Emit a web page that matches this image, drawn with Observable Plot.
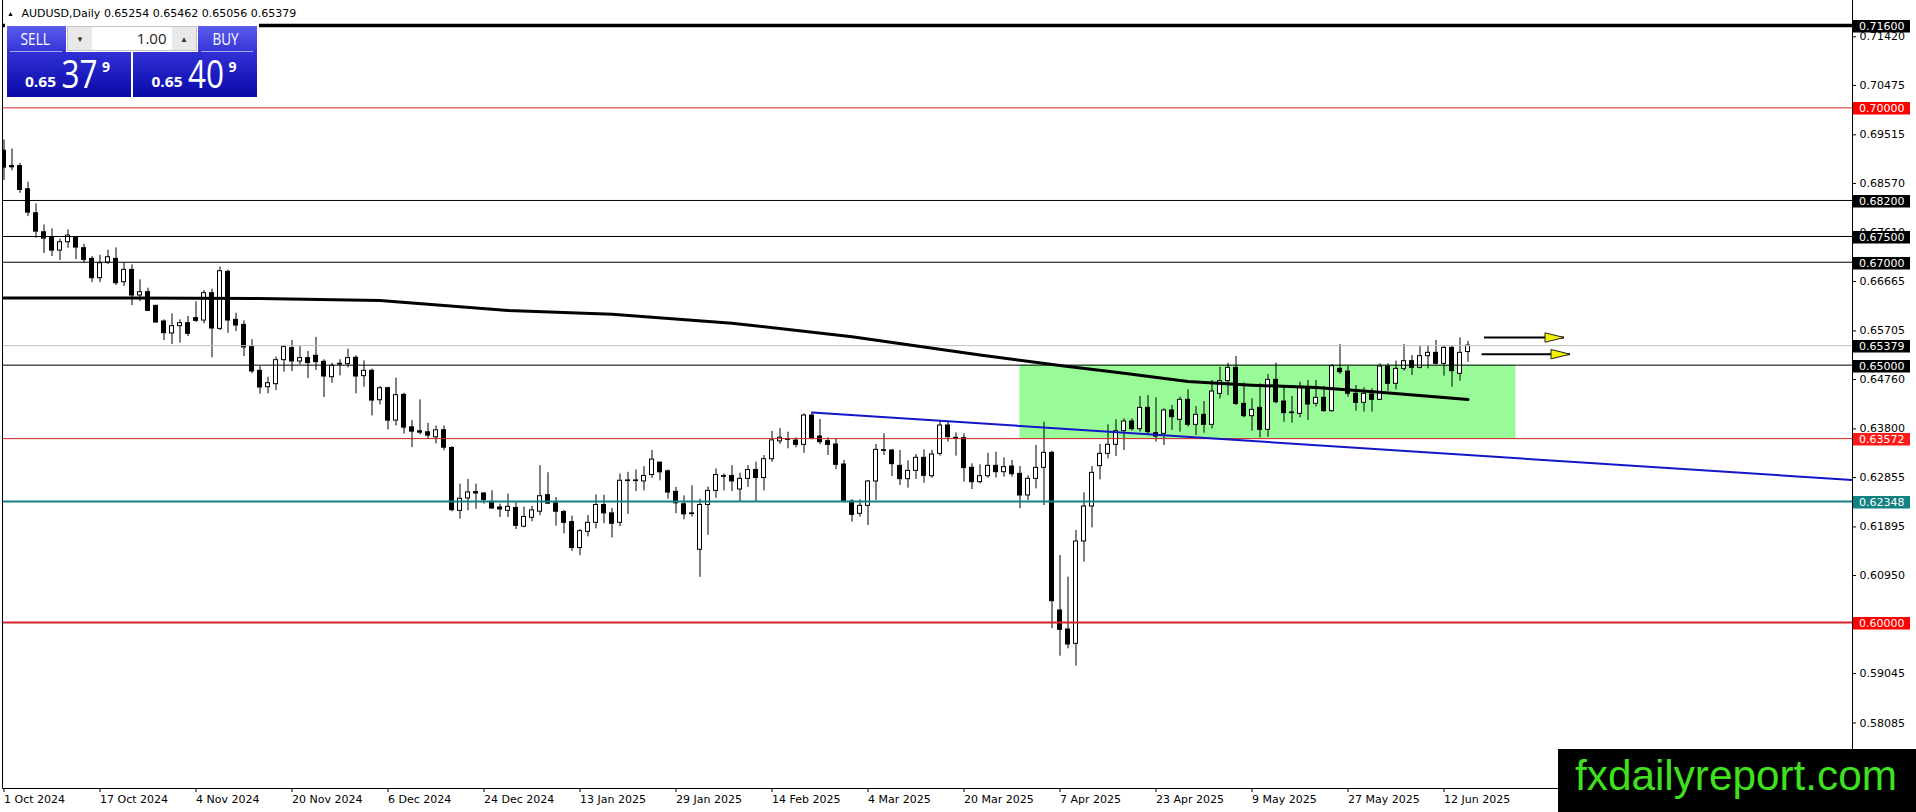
<!DOCTYPE html>
<html>
<head>
<meta charset="utf-8">
<script src="https://cdn.jsdelivr.net/npm/d3@7"></script>
<script src="https://cdn.jsdelivr.net/npm/@observablehq/plot@0.6"></script>
<style>
  html, body { margin: 0; padding: 0; background: #fff; overflow: hidden; }
  #chart { position: relative; width: 1916px; height: 812px; }
  #chart svg { display: block; }
  #chart svg.overlay { position: absolute; left: 0; top: 0; pointer-events: none; }
</style>
</head>
<body>
<div id="chart"></div>
<script>
// AUDUSD daily candles, 1 Oct 2024 .. 17 Jun 2025 (bar index = position on chart)
const opens = [
  0.69168, 0.6887, 0.6887, 0.68417, 0.67951, 0.67582, 0.67472, 0.67226, 0.67388, 0.67479,
  0.67272, 0.67065, 0.66689, 0.66993, 0.67065, 0.66612, 0.66851, 0.66353, 0.66417, 0.66152,
  0.65848, 0.65615, 0.65757, 0.65815, 0.65913, 0.65867, 0.66398, 0.65705, 0.66812, 0.6588,
  0.65783, 0.65356, 0.6489, 0.64571, 0.6463, 0.65097, 0.65331, 0.65071, 0.65136, 0.65182,
  0.65065, 0.64766, 0.65013, 0.65019, 0.65143, 0.64786, 0.6489, 0.64318, 0.64552, 0.63922,
  0.64422, 0.63792, 0.63714, 0.63695, 0.63597, 0.63734, 0.6339, 0.62169, 0.62409, 0.62532,
  0.62506, 0.62344, 0.62234, 0.62169, 0.62224, 0.6186, 0.62034, 0.62152, 0.62472, 0.62315,
  0.62145, 0.61949, 0.61446, 0.6176, 0.61936, 0.62283, 0.62119, 0.61936, 0.62747, 0.62747,
  0.6274, 0.62864, 0.63106, 0.62936, 0.62538, 0.62296, 0.62119, 0.61413, 0.62283, 0.62557,
  0.62845, 0.62845, 0.62583, 0.6279, 0.62962, 0.62806, 0.63172, 0.63518, 0.63548, 0.63535,
  0.63451, 0.64021, 0.63613, 0.63522, 0.63458, 0.63069, 0.6235, 0.62111, 0.62266, 0.62739,
  0.63348, 0.63341, 0.63043, 0.62784, 0.62946, 0.63199, 0.62842, 0.63276, 0.63827, 0.63587,
  0.63581, 0.63004, 0.62726, 0.62842, 0.63043, 0.6292, 0.6303, 0.62888, 0.62467, 0.62791,
  0.63004, 0.63296, 0.60232, 0.59863, 0.59584, 0.61573, 0.62253, 0.63037, 0.63276, 0.63452,
  0.63717, 0.63905, 0.63756, 0.6417, 0.63678, 0.63665, 0.64119, 0.63937, 0.64326, 0.6384,
  0.64034, 0.6384, 0.64442, 0.64689, 0.64948, 0.64248, 0.64008, 0.6417, 0.63743, 0.64714,
  0.64293, 0.6408, 0.64054, 0.64553, 0.64248, 0.64365, 0.64106, 0.64928, 0.64876, 0.64443,
  0.64268, 0.6443, 0.64326, 0.64974, 0.64637, 0.64928, 0.65077, 0.64948, 0.65174, 0.65239,
  0.65026, 0.65336, 0.64831, 0.65254
];
const highs = [
  0.69375, 0.692, 0.68922, 0.68553, 0.68132, 0.67725, 0.67647, 0.67453, 0.67628, 0.67498,
  0.67349, 0.6711, 0.67136, 0.67233, 0.67278, 0.66993, 0.66948, 0.66657, 0.66495, 0.66165,
  0.6588, 0.65997, 0.6588, 0.65945, 0.6623, 0.6645, 0.66476, 0.66909, 0.66851, 0.6601,
  0.65861, 0.65492, 0.64974, 0.64766, 0.65156, 0.65383, 0.6548, 0.65364, 0.65266, 0.65539,
  0.65104, 0.65039, 0.65104, 0.65312, 0.65182, 0.65084, 0.64922, 0.64584, 0.6457, 0.64747,
  0.64455, 0.63922, 0.64325, 0.6387, 0.63818, 0.63818, 0.63416, 0.62688, 0.62779, 0.62688,
  0.62526, 0.62558, 0.62299, 0.62494, 0.62328, 0.62243, 0.62256, 0.63047, 0.6291, 0.62426,
  0.62178, 0.62067, 0.61806, 0.6208, 0.62479, 0.62472, 0.62217, 0.62884, 0.62917, 0.62962,
  0.63028, 0.63341, 0.63115, 0.62962, 0.62623, 0.62459, 0.62655, 0.62394, 0.6263, 0.62982,
  0.62884, 0.63047, 0.629, 0.63047, 0.63113, 0.63243, 0.63714, 0.63766, 0.63697, 0.63587,
  0.64054, 0.6408, 0.63944, 0.63587, 0.63568, 0.63147, 0.62383, 0.62383, 0.62758, 0.63458,
  0.63665, 0.63354, 0.63341, 0.6314, 0.63263, 0.63354, 0.63341, 0.63911, 0.63911, 0.63684,
  0.63665, 0.63082, 0.63063, 0.63289, 0.63309, 0.63199, 0.63147, 0.6303, 0.62849, 0.63438,
  0.63892, 0.63328, 0.61301, 0.6088, 0.61787, 0.62519, 0.6303, 0.63458, 0.6384, 0.63937,
  0.63957, 0.63957, 0.64391, 0.6441, 0.64365, 0.64151, 0.64216, 0.64378, 0.6452, 0.64196,
  0.64293, 0.64702, 0.64961, 0.65038, 0.65168, 0.64656, 0.64345, 0.64637, 0.64818, 0.65038,
  0.64604, 0.64391, 0.64669, 0.64702, 0.64702, 0.64585, 0.65013, 0.65401, 0.64974, 0.64604,
  0.64559, 0.6454, 0.65026, 0.65026, 0.65077, 0.65401, 0.65187, 0.65362, 0.65369, 0.65479,
  0.65369, 0.65369, 0.65531, 0.65462
];
const lows = [
  0.68586, 0.6878, 0.6834, 0.67887, 0.67466, 0.67168, 0.6711, 0.67032, 0.67272, 0.67052,
  0.66993, 0.66605, 0.66605, 0.66955, 0.66547, 0.66527, 0.66158, 0.66236, 0.66042, 0.6582,
  0.65479, 0.65401, 0.65427, 0.65557, 0.65828, 0.65803, 0.65142, 0.65673, 0.65621, 0.65654,
  0.65168, 0.64832, 0.64435, 0.64442, 0.64506, 0.64864, 0.64877, 0.65006, 0.6474, 0.64896,
  0.6437, 0.64649, 0.64792, 0.64948, 0.64442, 0.64571, 0.64013, 0.64227, 0.6374, 0.63818,
  0.63662, 0.63396, 0.63643, 0.63558, 0.63468, 0.63338, 0.6215, 0.62006, 0.62169, 0.62201,
  0.62299, 0.62201, 0.62039, 0.62039, 0.61806, 0.6184, 0.61956, 0.62073, 0.62296, 0.61871,
  0.61721, 0.61381, 0.61296, 0.61662, 0.61819, 0.61917, 0.61642, 0.6186, 0.621, 0.62544,
  0.62557, 0.62799, 0.62753, 0.62394, 0.62113, 0.61994, 0.62047, 0.60877, 0.61694, 0.62413,
  0.62557, 0.62544, 0.62348, 0.62623, 0.62348, 0.62557, 0.63113, 0.63459, 0.63374, 0.63393,
  0.63289, 0.63548, 0.63451, 0.63244, 0.62972, 0.62324, 0.61948, 0.62046, 0.61884, 0.6237,
  0.63244, 0.62836, 0.62661, 0.62609, 0.62778, 0.62706, 0.62804, 0.63231, 0.63503, 0.63231,
  0.62726, 0.62583, 0.62693, 0.62804, 0.62804, 0.62823, 0.62823, 0.62208, 0.6237, 0.62596,
  0.62272, 0.59876, 0.59344, 0.59487, 0.5915, 0.61171, 0.61838, 0.62771, 0.63179, 0.63225,
  0.63341, 0.63717, 0.63697, 0.63652, 0.63503, 0.63438, 0.6373, 0.63697, 0.63795, 0.63633,
  0.63678, 0.63762, 0.64345, 0.6441, 0.64216, 0.63976, 0.63717, 0.63587, 0.636, 0.64248,
  0.63892, 0.63872, 0.63976, 0.63924, 0.64183, 0.64086, 0.64086, 0.64818, 0.64378, 0.64106,
  0.64086, 0.64086, 0.64313, 0.64494, 0.6452, 0.64883, 0.64799, 0.64928, 0.64928, 0.65006,
  0.64786, 0.64572, 0.64689, 0.65056
];
const closes = [
  0.68838, 0.68844, 0.68404, 0.67964, 0.67595, 0.67459, 0.67226, 0.67388, 0.67518, 0.67285,
  0.67045, 0.66689, 0.6698, 0.67097, 0.66592, 0.66851, 0.66353, 0.66417, 0.66055, 0.65828,
  0.65621, 0.65757, 0.65815, 0.65608, 0.65861, 0.66398, 0.65712, 0.66825, 0.65867, 0.6577,
  0.65343, 0.64877, 0.64565, 0.64649, 0.65097, 0.65351, 0.65071, 0.65136, 0.65039, 0.65058,
  0.64779, 0.64987, 0.65026, 0.65136, 0.64779, 0.6489, 0.64312, 0.64552, 0.63922, 0.64416,
  0.63786, 0.63708, 0.63688, 0.6363, 0.63734, 0.63396, 0.62182, 0.62403, 0.62526, 0.62506,
  0.62377, 0.62214, 0.62195, 0.62247, 0.61877, 0.6205, 0.62178, 0.62453, 0.62309, 0.62152,
  0.61936, 0.61446, 0.61773, 0.61936, 0.62283, 0.62119, 0.61917, 0.62753, 0.6276, 0.6276,
  0.62845, 0.63165, 0.62917, 0.62524, 0.62315, 0.621, 0.62106, 0.62283, 0.62557, 0.62864,
  0.62832, 0.6274, 0.6279, 0.62962, 0.62806, 0.63172, 0.63538, 0.6359, 0.63561, 0.63451,
  0.64021, 0.63581, 0.63503, 0.63451, 0.63063, 0.62357, 0.62091, 0.62266, 0.62739, 0.63354,
  0.63335, 0.63076, 0.62784, 0.62946, 0.63199, 0.62849, 0.63263, 0.63827, 0.636, 0.63574,
  0.62998, 0.62726, 0.62842, 0.63043, 0.6292, 0.63017, 0.62881, 0.62467, 0.62791, 0.63004,
  0.63296, 0.60413, 0.59856, 0.59571, 0.61573, 0.62253, 0.62907, 0.63276, 0.63452, 0.63717,
  0.63905, 0.63756, 0.6417, 0.63697, 0.63613, 0.64119, 0.63989, 0.64326, 0.6384, 0.64034,
  0.6384, 0.64488, 0.64689, 0.64948, 0.64248, 0.64008, 0.64131, 0.63743, 0.64714, 0.64281,
  0.64067, 0.64067, 0.64553, 0.64235, 0.64365, 0.64106, 0.6498, 0.64863, 0.64443, 0.64268,
  0.64443, 0.64326, 0.64974, 0.64637, 0.64928, 0.65077, 0.64948, 0.65174, 0.65239, 0.65026,
  0.65336, 0.64883, 0.65239, 0.65379
];

// date axis
const tickBars = [0, 12, 24, 36, 48, 60, 72, 84, 96, 108, 120, 132, 144, 156, 168, 180];
const tickLabels = ["1 Oct 2024", "17 Oct 2024", "4 Nov 2024", "20 Nov 2024", "6 Dec 2024", "24 Dec 2024",
  "13 Jan 2025", "29 Jan 2025", "14 Feb 2025", "4 Mar 2025", "20 Mar 2025", "7 Apr 2025",
  "23 Apr 2025", "9 May 2025", "27 May 2025", "12 Jun 2025"];

// price axis
const priceTicks = [0.7142, 0.70475, 0.69515, 0.6857, 0.6761, 0.66665, 0.65705, 0.6476,
  0.638, 0.62855, 0.61895, 0.6095, 0.5999, 0.59045, 0.58085];

// horizontal levels
const levelPrices = [0.716, 0.70, 0.682, 0.675, 0.67, 0.65379, 0.65, 0.63572, 0.62348, 0.60];

// moving average, read at a few bars
const maBars = [0, 16, 32, 47, 63, 76, 91, 106, 122, 132, 140, 148, 156, 164, 172, 183];
const maValues = [0.66305, 0.66305, 0.66295, 0.66256, 0.66062, 0.6599, 0.65815, 0.65553,
  0.65197, 0.64993, 0.64843, 0.64682, 0.6461, 0.64565, 0.64474, 0.64332];

// descending trend line (runs to the right edge)
const trendBars = [101, 231];
const trendValues = [0.6408, 0.62768];

// green range box
const zoneBars = [127, 189];
const zonePrices = [0.63572, 0.65];

// two arrows to the right
const arrowFrom = [185, 184.7];
const arrowTo = [195, 195.75];
const arrowPrices = [0.65537, 0.65213];

const symbolName = "AUDUSD,Daily";
const bid = 0.65379, ask = 0.65409, lots = "1.00";

// ---- styles (kept apart from the data) ----
const levelStroke = ["#000", "#e02020", "#000", "#000", "#000", "#c0c0c0", "#000", "#c81e1e", "#168080", "#d2232a"];
const levelWidth = [3.5, 1, 1, 1, 1, 1, 1, 1, 2, 2];
const levelBox = ["#000", "#ff0000", "#000", "#000", "#000", "#000", "#000", "#ff1a1a", "#148282", "#ff0000"];

const bars = opens.map((o, i) => ({i, o, h: highs[i], l: lows[i], c: closes[i]}));
const upBars = bars.filter(d => d.c >= d.o);
const downBars = bars.filter(d => d.c < d.o);
const ma = maBars.map((b, k) => ({b, v: maValues[k]}));
const trend = trendBars.map((b, k) => ({b, v: trendValues[k]}));
const arrows = arrowFrom.map((f, k) => ({f, t: arrowTo[k], p: arrowPrices[k]}));

const arrowHead = {
  draw(ctx) {
    ctx.moveTo(0, 0);
    ctx.lineTo(-19, -4.7);
    ctx.lineTo(-19, 4.7);
    ctx.closePath();
  }
};

const plot = Plot.plot({
  width: 1916,
  height: 812,
  marginLeft: 3,
  marginRight: 64,
  marginTop: 0,
  marginBottom: 24,
  style: {background: "#fff", color: "#000", fontFamily: "DejaVu Sans", fontSize: "11px"},
  x: {type: "linear", domain: [-0.0625, 231.0625]},
  y: {type: "linear", domain: [0.56773, 0.72086]},
  marks: [
    Plot.rect([0], {x1: () => zoneBars[0], x2: () => zoneBars[1], y1: () => zonePrices[0], y2: () => zonePrices[1], fill: "#98fb98", clip: true}),
    Plot.ruleX(bars, {x: "i", y1: "l", y2: "h", stroke: "#000", strokeWidth: 1, clip: true}),
    Plot.rect(upBars, {x1: d => d.i - 0.25, x2: d => d.i + 0.25, y1: "o", y2: "c", fill: "#fff", stroke: "#000", strokeWidth: 1, clip: true}),
    Plot.rect(downBars, {x1: d => d.i - 0.25, x2: d => d.i + 0.25, y1: "o", y2: "c", fill: "#000", stroke: "#000", strokeWidth: 1, clip: true}),
    ...levelPrices.map((p, k) => Plot.ruleY([p], {stroke: levelStroke[k], strokeWidth: levelWidth[k]})),
    Plot.line(trend, {x: "b", y: "v", stroke: "#1414c8", strokeWidth: 2, clip: true}),
    Plot.line(ma, {x: "b", y: "v", stroke: "#000", strokeWidth: 3, clip: true}),
    Plot.link(arrows, {x1: "f", x2: "t", y1: "p", y2: "p", stroke: "#000", strokeWidth: 2}),
    Plot.dot(arrows, {x: "t", y: "p", symbol: arrowHead, fill: "#f2f200", stroke: "#222", strokeWidth: 1}),
    Plot.axisX(tickBars, {anchor: "bottom", tickSize: 4, tickPadding: 3, textAnchor: "start", label: null,
      tickFormat: d => tickLabels[tickBars.indexOf(d)]}),
    Plot.axisY(priceTicks, {anchor: "right", tickSize: 3, tickPadding: 4, dy: 2, label: null,
      tickFormat: d => d.toFixed(5)})
  ]
});

const chart = document.getElementById("chart");
chart.appendChild(plot);

// frame lines and price labels, placed with the plot's own scales
const svg = d3.select(plot);
const xs = plot.scale("x"), ys = plot.scale("y");
const left = xs.range[0] - 0.5, right = xs.range[1] + 0.5, bottom = ys.range[0] + 0.5;
svg.append("path").attr("d", `M${left},0V${bottom}H${right}V0`).attr("fill", "none").attr("stroke", "#000");

const labels = svg.append("g").attr("text-anchor", "start").attr("font-family", "DejaVu Sans").attr("font-size", 11);
levelPrices.forEach((p, k) => {
  const yy = Math.round(ys.apply(p));
  labels.append("rect").attr("x", right + 0.5).attr("y", yy - 5).attr("width", 57).attr("height", 12.5).attr("fill", levelBox[k]);
  labels.append("text").attr("x", right + 6.5).attr("y", yy + 5.3).attr("fill", "#fff").text(p.toFixed(5));
});

// header, one-click trading panel and watermark
const ov = d3.select(chart).append("svg").attr("class", "overlay").attr("width", 1916).attr("height", 812)
  .attr("text-anchor", "start");
const defs = ov.append("defs");
const g1 = defs.append("linearGradient").attr("id", "hd").attr("x1", 0).attr("y1", 0).attr("x2", 0).attr("y2", 1);
g1.append("stop").attr("offset", 0).attr("stop-color", "#5c5cee");
g1.append("stop").attr("offset", 1).attr("stop-color", "#3434d6");
const g2 = defs.append("linearGradient").attr("id", "bx").attr("x1", 0).attr("y1", 0).attr("x2", 0).attr("y2", 1);
g2.append("stop").attr("offset", 0).attr("stop-color", "#3030d6");
g2.append("stop").attr("offset", 1).attr("stop-color", "#0a0aa8");

const last = bars[bars.length - 1];
ov.append("text").attr("x", 7).attr("y", 16).attr("font-size", 7).text("▲");
ov.append("text").attr("x", 21.5).attr("y", 17).attr("font-family", "DejaVu Sans").attr("font-size", 11)
  .text(`${symbolName} ${last.o.toFixed(5)} ${last.h.toFixed(5)} ${last.l.toFixed(5)} ${last.c.toFixed(5)}`);

ov.append("rect").attr("x", 5).attr("y", 21).attr("width", 254).attr("height", 77).attr("fill", "#fff");
const font = "Open Sans";
[[7, "SELL", 20.5, 29.5], [198, "BUY", 212.5, 26]].forEach(([x0, label, tx, tl]) => {
  ov.append("rect").attr("x", x0).attr("y", 26).attr("width", 59).attr("height", 26).attr("fill", "url(#hd)");
  ov.append("line").attr("x1", x0 + 3).attr("x2", x0 + 55).attr("y1", 51.5).attr("y2", 51.5).attr("stroke", "#a9a9ee");
  ov.append("text").attr("x", tx).attr("y", 44.5).attr("font-family", font).attr("font-size", 16).attr("fill", "#fff")
    .attr("textLength", tl).attr("lengthAdjust", "spacingAndGlyphs").text(label);
});
ov.append("rect").attr("x", 67.5).attr("y", 26.5).attr("width", 129).attr("height", 24).attr("fill", "#fff").attr("stroke", "#c4c4c4");
ov.append("rect").attr("x", 68).attr("y", 27).attr("width", 24).attr("height", 23).attr("fill", "#e9e9e9");
ov.append("rect").attr("x", 172).attr("y", 27).attr("width", 24).attr("height", 23).attr("fill", "#e9e9e9");
ov.append("text").attr("x", 80).attr("y", 42).attr("font-size", 8).attr("text-anchor", "middle").attr("fill", "#333").text("▼");
ov.append("text").attr("x", 184).attr("y", 42).attr("font-size", 8).attr("text-anchor", "middle").attr("fill", "#333").text("▲");
ov.append("text").attr("x", 166.5).attr("y", 44).attr("font-family", font).attr("font-size", 15).attr("text-anchor", "end")
  .attr("fill", "#222").text(lots);

[[7, bid, 25], [133, ask, 151.5]].forEach(([x0, price, tx]) => {
  const s = price.toFixed(5);
  ov.append("rect").attr("x", x0).attr("y", 52).attr("width", 124).attr("height", 45).attr("fill", "url(#bx)");
  ov.append("text").attr("x", tx).attr("y", 87).attr("font-family", font).attr("font-size", 15).attr("font-weight", "bold")
    .attr("fill", "#fff").attr("textLength", 31).attr("lengthAdjust", "spacingAndGlyphs").text(s.slice(0, 4));
  ov.append("text").attr("x", tx + 36.5).attr("y", 87.5).attr("font-family", font).attr("font-size", 38)
    .attr("fill", "#fff").attr("textLength", 36).attr("lengthAdjust", "spacingAndGlyphs").text(s.slice(4, 6));
  ov.append("text").attr("x", tx + 77).attr("y", 71.5).attr("font-family", font).attr("font-size", 14).attr("font-weight", "bold")
    .attr("fill", "#fff").text(s.slice(6));
});

ov.append("rect").attr("x", 1558).attr("y", 749).attr("width", 358).attr("height", 63).attr("fill", "#000");
ov.append("text").attr("x", 1575).attr("y", 789.5).attr("font-family", "Liberation Sans").attr("font-size", 42)
  .attr("fill", "#3fe01e").attr("textLength", 322).attr("lengthAdjust", "spacingAndGlyphs").text("fxdailyreport.com");
</script>
</body>
</html>
